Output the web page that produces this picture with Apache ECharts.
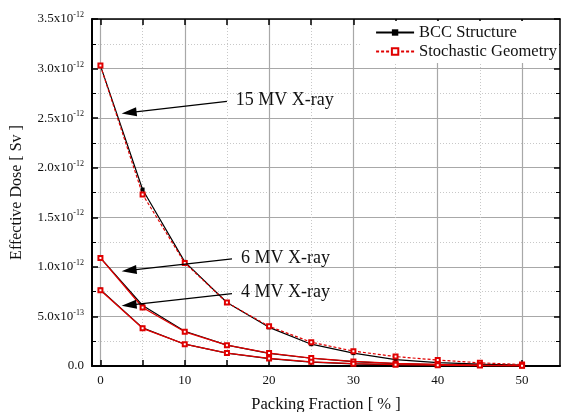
<!DOCTYPE html>
<html>
<head>
<meta charset="utf-8">
<script src="https://cdn.jsdelivr.net/npm/echarts@6/dist/echarts.min.js"></script>
<style>
html, body { margin: 0; padding: 0; background: #fff; }
#echarts { width: 563px; height: 412px; }
</style>
</head>
<body>
<div id="echarts"></div>
<script>
// packing fraction [%]
var packing = [0, 5, 10, 15, 20, 25, 30, 35, 40, 45, 50];
// effective dose in units of 1e-12 Sv
var bcc15 = [3.03, 1.78, 1.05, 0.64, 0.39, 0.22, 0.13, 0.065, 0.035, 0.018, 0.01];
var sto15 = [3.03, 1.73, 1.04, 0.64, 0.40, 0.24, 0.15, 0.095, 0.06, 0.032, 0.015];
var bcc6 = [1.09, 0.61, 0.35, 0.21, 0.128, 0.078, 0.045, 0.024, 0.014, 0.008, 0.004];
var sto6 = [1.09, 0.59, 0.345, 0.21, 0.13, 0.08, 0.046, 0.026, 0.015, 0.009, 0.005];
var bcc4 = [0.77, 0.385, 0.22, 0.13, 0.075, 0.04, 0.022, 0.012, 0.007, 0.004, 0.002];
var sto4 = [0.765, 0.38, 0.22, 0.13, 0.076, 0.042, 0.023, 0.013, 0.008, 0.004, 0.002];

var xLabels = [0, 10, 20, 30, 40, 50];
var xTicks = [0, 5, 10, 15, 20, 25, 30, 35, 40, 45, 50];
var xMinor = [5, 15, 25, 35, 45];

// arrows: [label, start x, start y, tip x, tip y]
var arrows = [
    ['15 MV X-ray', 15.0, 2.67, 3.4, 2.555],
    ['6 MV X-ray', 15.6, 1.08, 3.4, 0.965],
    ['4 MV X-ray', 15.6, 0.73, 3.4, 0.615]
];

var FONT = 'Liberation Serif';

function pairs(ys) {
    return packing.map(function (x, i) { return [x, ys[i]]; });
}

function yLabel(v) {
    if (Math.abs(v) < 1e-9) return '0.0';
    var real = v * 1e-12;
    var e = Math.floor(Math.log10(real) + 1e-9);
    var m = real / Math.pow(10, e);
    return '{m|' + m.toFixed(1) + 'x10}{s|' + e + '}';
}

function baidu_echarts() {
    var dom = document.getElementById('echarts');
    var myChart = echarts.init(dom);
    var xBase = { type: 'value', min: -1, max: 54.5, gridIndex: 0 };
    var option = {
        animation: false,
        textStyle: { fontFamily: FONT },
        grid: { left: 92, right: 3, top: 19, bottom: 46, outerBoundsMode: 'none', containLabel: false },
        legend: {
            data: ['BCC Structure', 'Stochastic Geometry'],
            orient: 'vertical',
            right: 4,
            top: 21,
            itemWidth: 38,
            itemHeight: 8,
            itemGap: 2,
            backgroundColor: '#fff',
            padding: [3, 2, 3, 14],
            textStyle: { fontFamily: FONT, fontSize: 16.5, color: '#111' }
        },
        xAxis: [
            Object.assign({}, xBase, {
                position: 'bottom',
                name: 'Packing Fraction [ % ]',
                nameLocation: 'middle',
                nameGap: 30,
                nameTextStyle: { fontFamily: FONT, fontSize: 16.5, color: '#111' },
                axisLine: { onZero: false, lineStyle: { color: '#000', width: 2 } },
                axisTick: { inside: true, length: 6, customValues: xTicks, lineStyle: { color: '#000', width: 1.5 } },
                axisLabel: { customValues: xLabels, fontFamily: FONT, fontSize: 13, color: '#111', margin: 8 },
                splitLine: { show: false }
            }),
            Object.assign({}, xBase, {
                position: 'top',
                axisLine: { onZero: false, lineStyle: { color: '#000', width: 1.5 } },
                axisTick: { inside: true, length: 6, customValues: xTicks, lineStyle: { color: '#000', width: 1.5 } },
                axisLabel: { show: false },
                splitLine: { show: false }
            }),
            Object.assign({}, xBase, {
                position: 'bottom',
                axisLine: { show: false },
                axisTick: { show: false, customValues: xLabels },
                axisLabel: { show: false },
                splitLine: { show: true, lineStyle: { color: '#a8a8a8', width: 1.2 } }
            }),
            Object.assign({}, xBase, {
                position: 'bottom',
                axisLine: { show: false },
                axisTick: { show: false, customValues: xMinor },
                axisLabel: { show: false },
                splitLine: { show: true, lineStyle: { color: '#c8c8c8', width: 1, type: [1, 2] } }
            })
        ],
        yAxis: [
            {
                type: 'value',
                min: 0,
                max: 3.5,
                interval: 0.5,
                position: 'left',
                name: 'Effective Dose [ Sv ]',
                nameLocation: 'middle',
                nameGap: 67,
                nameTextStyle: { fontFamily: FONT, fontSize: 16, color: '#111' },
                axisLine: { show: true, onZero: false, lineStyle: { color: '#000', width: 2 } },
                axisTick: { show: true, inside: true, length: 6, lineStyle: { color: '#000', width: 1.5 } },
                minorTick: { show: true, splitNumber: 2, length: 4, lineStyle: { color: '#000' } },
                axisLabel: {
                    formatter: yLabel,
                    color: '#111',
                    margin: 8,
                    rich: {
                        m: { fontFamily: FONT, fontSize: 13, color: '#111' },
                        s: { fontFamily: FONT, fontSize: 8, color: '#111', verticalAlign: 'top', padding: [0, 0, 8, 0] }
                    },
                    fontFamily: FONT,
                    fontSize: 13
                },
                splitLine: { show: true, lineStyle: { color: '#a8a8a8', width: 1.2 } },
                minorSplitLine: { show: true, lineStyle: { color: '#c8c8c8', width: 1, type: [1, 2] } }
            },
            {
                type: 'value',
                min: 0,
                max: 3.5,
                interval: 0.5,
                position: 'right',
                axisLine: { show: true, onZero: false, lineStyle: { color: '#000', width: 1.5 } },
                axisTick: { show: true, inside: true, length: 6, lineStyle: { color: '#000', width: 1.5 } },
                minorTick: { show: true, splitNumber: 2, length: 4, lineStyle: { color: '#000' } },
                axisLabel: { show: false },
                splitLine: { show: false }
            }
        ],
        series: [
            {
                name: 'BCC Structure', type: 'line', data: pairs(bcc15),
                symbol: 'rect', symbolSize: 4, color: '#000',
                lineStyle: { color: '#000', width: 1.2 },
                markLine: {
                    silent: true,
                    symbol: ['none', 'triangle'],
                    symbolSize: [9, 15],
                    lineStyle: { color: '#000', width: 1.3, type: 'solid' },
                    label: {
                        show: true, position: 'start', distance: 9,
                        fontFamily: FONT, fontSize: 18, color: '#111'
                    },
                    data: arrows.map(function (a) {
                        return [
                            { coord: [a[1], a[2]], name: a[0], label: { formatter: a[0] } },
                            { coord: [a[3], a[4]] }
                        ];
                    })
                }
            },
            {
                name: 'BCC Structure', type: 'line', data: pairs(bcc6),
                symbol: 'rect', symbolSize: 4, color: '#000',
                lineStyle: { color: '#000', width: 1.2 }
            },
            {
                name: 'BCC Structure', type: 'line', data: pairs(bcc4),
                symbol: 'rect', symbolSize: 4, color: '#000',
                lineStyle: { color: '#000', width: 1.2 }
            },
            {
                name: 'Stochastic Geometry', type: 'line', data: pairs(sto15),
                symbol: 'emptyRect', symbolSize: 4, color: '#e00000',
                itemStyle: { color: '#e00000', borderWidth: 1.1 },
                lineStyle: { color: '#e00000', width: 1.2, type: [3, 2] }
            },
            {
                name: 'Stochastic Geometry', type: 'line', data: pairs(sto6),
                symbol: 'emptyRect', symbolSize: 4, color: '#e00000',
                itemStyle: { color: '#e00000', borderWidth: 1.1 },
                lineStyle: { color: '#e00000', width: 1.3 }
            },
            {
                name: 'Stochastic Geometry', type: 'line', data: pairs(sto4),
                symbol: 'emptyRect', symbolSize: 4, color: '#e00000',
                itemStyle: { color: '#e00000', borderWidth: 1.1 },
                lineStyle: { color: '#e00000', width: 1.3 }
            }
        ]
    };
    if (option && typeof option === 'object') {
        myChart.setOption(option, true);
    }
}

baidu_echarts();
</script>
</body>
</html>
